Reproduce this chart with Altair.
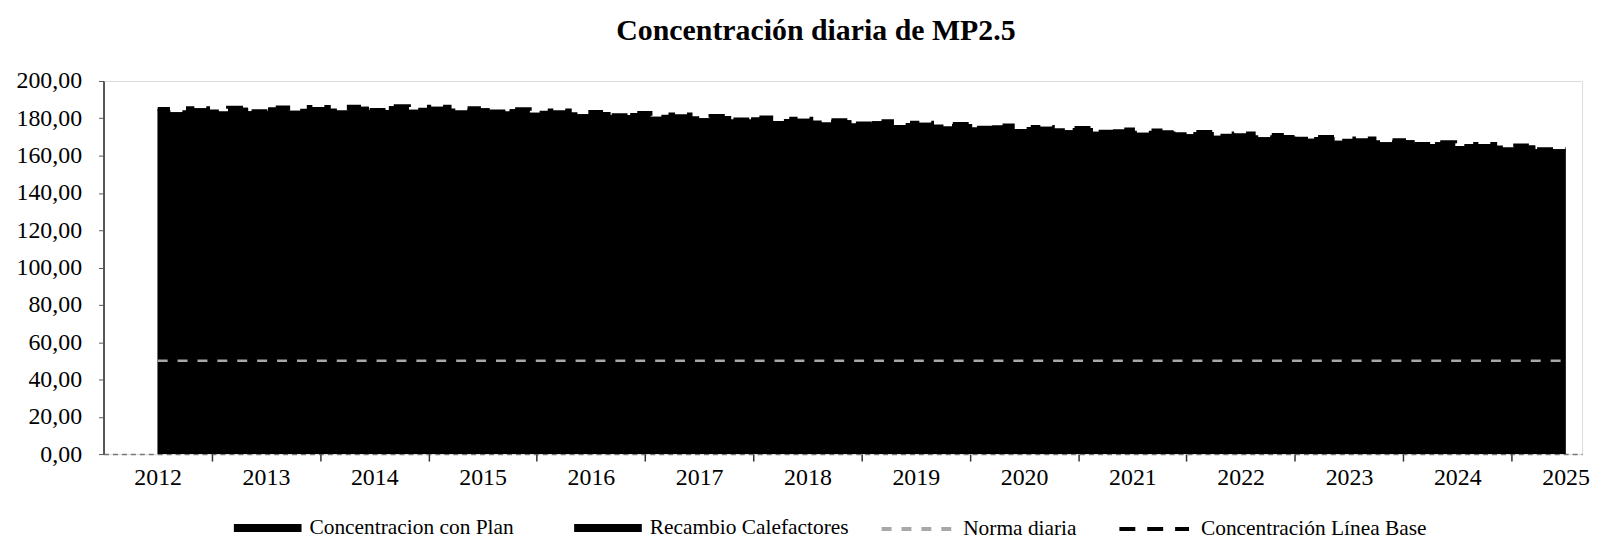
import altair as alt
import pandas as pd

TITLE = "Concentración diaria de MP2.5"

year_labels = list(range(2012, 2026))
half_year_ticks = [2012.5, 2013.5, 2014.5, 2015.5, 2016.5, 2017.5, 2018.5,
                   2019.5, 2020.5, 2021.5, 2022.5, 2023.5, 2024.5]
y_ticks = [0, 20, 40, 60, 80, 100, 120, 140, 160, 180, 200]

# sample dates (fractional years) of the daily concentration profile
fechas = [2012.00, 2012.19, 2012.37, 2012.56, 2012.74, 2012.93, 2013.11, 2013.30,
          2013.49, 2013.67, 2013.86, 2014.04, 2014.23, 2014.41, 2014.60, 2014.79,
          2014.97, 2015.16, 2015.34, 2015.53, 2015.71, 2015.90, 2016.09, 2016.27,
          2016.46, 2016.64, 2016.83, 2017.01, 2017.20, 2017.39, 2017.57, 2017.76,
          2017.94, 2018.13, 2018.31, 2018.50, 2018.69, 2018.87, 2019.06, 2019.24,
          2019.43, 2019.61, 2019.80, 2019.99, 2020.17, 2020.36, 2020.54, 2020.73,
          2020.91, 2021.10, 2021.29, 2021.47, 2021.66, 2021.84, 2022.03, 2022.21,
          2022.40, 2022.59, 2022.77, 2022.96, 2023.14, 2023.33, 2023.51, 2023.70,
          2023.89, 2024.07, 2024.26, 2024.44, 2024.63, 2024.81, 2025.00]

linea_base = [185.0, 183.3, 185.4, 183.6, 185.6, 183.8, 185.8, 184.0,
              186.0, 184.2, 186.2, 184.4, 186.4, 184.6, 186.2, 184.2,
              185.4, 183.6, 184.8, 183.0, 184.2, 182.2, 183.4, 181.6,
              182.8, 180.8, 182.0, 180.0, 181.2, 179.4, 180.4, 178.6,
              179.8, 177.8, 179.0, 177.2, 178.4, 176.4, 177.6, 175.6,
              177.0, 175.0, 176.2, 174.2, 175.4, 173.6, 174.8, 172.8,
              174.0, 172.2, 173.4, 171.4, 172.6, 170.6, 171.8, 169.8,
              171.0, 169.0, 170.0, 168.0, 169.2, 167.2, 168.2, 166.2,
              167.2, 165.2, 166.2, 164.4, 165.4, 163.4, 163.4]
# in the picture the plan series coincide with the base line (all black)
con_plan = list(linea_base)
recambio = list(linea_base)

norma_fechas = [2012.0, 2025.0]
norma_valores = [50.0, 50.0]

area_names = ["Concentracion con Plan", "Recambio Calefactores"]
line_names = ["Norma diaria", "Concentración Línea Base"]

area_df = pd.DataFrame({
    "t": fechas + fechas,
    "v": con_plan + recambio,
    "serie_area": [area_names[0]] * len(fechas) + [area_names[1]] * len(fechas),
})
base_df = pd.DataFrame({"t": fechas, "v": linea_base,
                        "serie_line": [line_names[1]] * len(fechas)})
norma_df = pd.DataFrame({"t": norma_fechas, "v": norma_valores,
                         "serie_line": [line_names[0]] * len(norma_fechas)})

FONT = "Liberation Serif"
x_scale = alt.Scale(domain=[2011.5, 2025.152], nice=False, zero=False)
y_scale = alt.Scale(domain=[0, 200], nice=False)

y_axis = alt.Axis(values=y_ticks, title=None, grid=False,
                  labelExpr="replace(format(datum.value, '.2f'), '.', ',')",
                  labelFont=FONT, labelFontSize=24, labelColor="black",
                  tickSize=5, tickColor="#555", labelPadding=17,
                  domainColor="#555", domainWidth=2)

x_axis_years = alt.Axis(values=year_labels, format="d", title=None, grid=False,
                        ticks=False, labelFont=FONT, labelFontSize=24,
                        labelColor="black", labelPadding=12, labelFlush=False,
                        domainColor="#777", domainDash=[5, 4], domainWidth=1.5,
                        orient="bottom")
x_axis_ticks = alt.Axis(values=half_year_ticks, title=None, grid=False,
                        labels=False, tickSize=7, tickColor="#333", tickWidth=1.5,
                        domain=False, orient="bottom")

fill_legend = alt.Legend(title=None, orient="none", legendX=131, legendY=415,
                         direction="horizontal", columns=2,
                         symbolType="M-1,-0.12L1,-0.12L1,0.12L-1,0.12Z",
                         symbolSize=4624, symbolStrokeWidth=0,
                         labelFont=FONT, labelFontSize=21.5, labelColor="black",
                         labelOffset=8, columnPadding=60, labelLimit=400)
line_legend = alt.Legend(title=None, orient="none", legendX=780, legendY=413,
                         direction="horizontal", columns=2,
                         symbolType="stroke", symbolSize=4900,
                         symbolStrokeWidth=4,
                         labelFont=FONT, labelFontSize=21.5, labelColor="black",
                         labelOffset=10, columnPadding=34, labelLimit=400)

areas = alt.Chart(area_df).mark_area(interpolate="step", opacity=1).encode(
    x=alt.X("t:Q", scale=x_scale, axis=x_axis_years),
    y=alt.Y("v:Q", scale=y_scale, axis=y_axis, stack=None),
    fill=alt.Fill("serie_area:N",
                  scale=alt.Scale(domain=area_names, range=["black", "black"]),
                  legend=fill_legend),
)

stroke_scale = alt.Scale(domain=line_names, range=["#a8a8a8", "black"])
dash_scale = alt.Scale(domain=line_names, range=[[10, 10], [16, 12]])

base = alt.Chart(base_df).mark_line(interpolate="step", strokeWidth=4).encode(
    x=alt.X("t:Q", scale=x_scale, axis=None),
    y=alt.Y("v:Q", scale=y_scale, axis=y_axis),
    stroke=alt.Stroke("serie_line:N", scale=stroke_scale, legend=line_legend),
    strokeDash=alt.StrokeDash("serie_line:N", scale=dash_scale, legend=line_legend),
)

norma = alt.Chart(norma_df).mark_line(strokeWidth=2.5).encode(
    x=alt.X("t:Q", scale=x_scale, axis=x_axis_ticks),
    y=alt.Y("v:Q", scale=y_scale, axis=y_axis),
    stroke=alt.Stroke("serie_line:N", scale=stroke_scale, legend=line_legend),
    strokeDash=alt.StrokeDash("serie_line:N", scale=dash_scale, legend=line_legend),
)

chart = alt.layer(areas, base, norma).resolve_axis(x="independent").properties(
    width=1486, height=375,
    title=alt.Title(TITLE, font=FONT, fontSize=30, fontWeight="bold",
                    color="black", anchor="middle", dx=-27, offset=23),
    padding={"left": 96, "top": 72, "right": 12, "bottom": 86},
    autosize=alt.AutoSizeParams(type="none"),
).configure_view(stroke=None).configure(background="white")

chart.save("out.html", embed_options={"renderer": "svg", "actions": False})
